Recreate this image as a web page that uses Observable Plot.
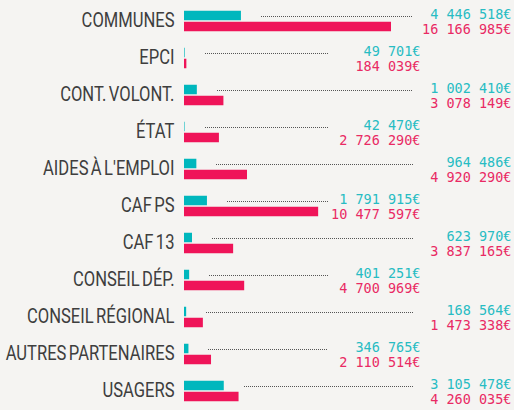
<!DOCTYPE html>
<html>
<head>
<meta charset="utf-8">
<script src="https://cdn.jsdelivr.net/npm/d3@7"></script>
<script src="https://cdn.jsdelivr.net/npm/@observablehq/plot@0.6"></script>
<style>
  html, body { margin: 0; padding: 0; background: #f5f4f2; }
  #chart svg { display: block; }
</style>
</head>
<body>
<div id="chart"></div>
<script>
const categories = ["COMMUNES", "EPCI", "CONT. VOLONT.", "ÉTAT", "AIDES À L'EMPLOI", "CAF PS", "CAF 13", "CONSEIL DÉP.", "CONSEIL RÉGIONAL", "AUTRES PARTENAIRES", "USAGERS"];
const tealValues = [4446518, 49701, 1002410, 42470, 964486, 1791915, 623970, 401251, 168564, 346765, 3105478];
const pinkValues = [16166985, 184039, 3078149, 2726290, 4920290, 10477597, 3837165, 4700969, 1473338, 2110514, 4260035];

const TEAL = "#00b7bd", PINK = "#ef1459";
const TEAL_TXT = "#27bcc3", PINK_TXT = "#e92a64";
const width = 514, height = 410;
const marginLeft = 184, marginRight = 3;
const plotW = width - marginLeft - marginRight;
const xMax = 25540000;
const k = xMax / plotW; // value per pixel

const loc = d3.formatLocale({decimal: ",", thousands: " ", grouping: [3], currency: ["", "€"]});
const fmt = v => loc.format(",")(v) + "€";

const rows = categories.map((c, i) => ({
  cat: c, teal: tealValues[i], pink: pinkValues[i],
  col: i % 2 ? (420 - marginLeft) * k : xMax,
  lineEnd: i % 2 ? (328 - marginLeft) * k : (413 - marginLeft) * k
}));

const monoFont = "'DejaVu Sans Mono', 'Liberation Mono', monospace";

const chart = Plot.plot({
  width, height,
  marginLeft, marginRight, marginTop: 0, marginBottom: 0,
  style: {background: "#f5f4f2", overflow: "visible"},
  x: {domain: [0, xMax], axis: null},
  y: {domain: categories, range: [-0.75, 411.75], padding: 0, axis: null},
  marks: [
    Plot.text(rows, {y: "cat", text: "cat", frameAnchor: "left", dx: -10, textAnchor: "end",
      fontSize: 19.5, fill: "#3e3e3e", fontFamily: "Roboto, sans-serif"}),
    Plot.barX(rows, {y: "cat", x: "teal", fill: TEAL, insetTop: 8.75, insetBottom: 18.75}),
    Plot.barX(rows, {y: "cat", x: "pink", fill: PINK, insetTop: 19.75, insetBottom: 7.75}),
    Plot.ruleY(rows, {y: "cat", x1: d => d.teal + 20 * k, x2: "lineEnd", dy: -5,
      stroke: "#555", strokeWidth: 1, strokeDasharray: "1,1", shapeRendering: "crispEdges"}),
    Plot.text(rows, {y: "cat", x: "col", text: d => fmt(d.teal), dy: -6.5, textAnchor: "end",
      fill: TEAL_TXT, fontSize: 13.5, fontFamily: monoFont}),
    Plot.text(rows, {y: "cat", x: "col", text: d => fmt(d.pink), dy: 9, textAnchor: "end",
      fill: PINK_TXT, fontSize: 13.5, fontFamily: monoFont})
  ]
});
// condense the category labels horizontally (Roboto Condensed look)
const catSet = new Set(categories);
d3.select(chart).selectAll("text").filter(function() { return catSet.has(this.textContent); }).each(function() {
  const t = d3.select(this);
  t.style("word-spacing", "-2px");
  const tr = t.attr("transform");
  if (tr) {
    t.attr("transform", tr + " scale(0.85,1)");
  } else {
    const x = +t.attr("x") || 0, y = +t.attr("y") || 0;
    t.attr("x", null).attr("y", null).attr("transform", `translate(${x},${y}) scale(0.85,1)`);
  }
});
document.getElementById("chart").appendChild(chart);
</script>
</body>
</html>
